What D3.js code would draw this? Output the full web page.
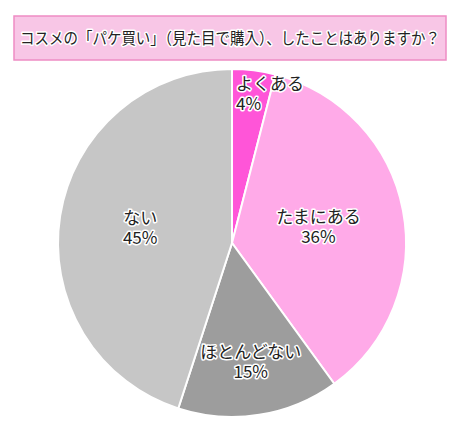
<!DOCTYPE html><html><head><meta charset="utf-8"><script src="https://cdn.jsdelivr.net/npm/d3@7"></script>
<style>body{margin:0;background:#fff}text{font-family:"Noto Sans CJK JP",sans-serif}</style></head><body>
<svg id="c" width="452" height="431"></svg>
<script>
const title="コスメの「パケ買い」（見た目で購入）、したことはありますか？";
const categories=["よくある","たまにある","ほとんどない","ない"];
const values=[4,36,15,45];
const colors=["#ff55d8","#ffaae8","#9d9d9d","#c6c6c6"];
const labelR=[150,88,120,93];
const svg=d3.select("#c");
svg.append("rect").attr("x",14).attr("y",16).attr("width",432).attr("height",44).attr("fill","#f8c6e6").attr("stroke","#ee8cc4").attr("stroke-width",1.5);
svg.append("text").attr("x",20).attr("y",44).attr("textLength",420).attr("lengthAdjust","spacingAndGlyphs").attr("font-size",16).attr("fill","#222")
 .attr("stroke","#fff").attr("stroke-width",3).attr("paint-order","stroke").attr("stroke-linejoin","round").text(title);
const cx=232,cy=243,R=174;
const g=svg.append("g").attr("transform",`translate(${cx},${cy})`);
const pie=d3.pie().sort(null)(values);
const arc=d3.arc().innerRadius(0).outerRadius(R);
g.selectAll("path").data(pie).join("path").attr("d",arc).attr("fill",(d,i)=>colors[i]).attr("stroke","#fff").attr("stroke-width",2);
pie.forEach((d,i)=>{
 const a=(d.startAngle+d.endAngle)/2, r=labelR[i];
 let x=Math.sin(a)*r, y=-Math.cos(a)*r;
 const anchor=i===0?"start":"middle"; if(i===0)x=4;
 [[categories[i],-4],[values[i]+"%",16]].forEach(([s,dy])=>{
  g.append("text").attr("x",x).attr("y",y+dy).attr("text-anchor",anchor).attr("font-size",17).attr("fill","#222")
   .attr("stroke","#fff").attr("stroke-width",3).attr("paint-order","stroke").attr("stroke-linejoin","round").text(s);
 });
});
</script></body></html>
